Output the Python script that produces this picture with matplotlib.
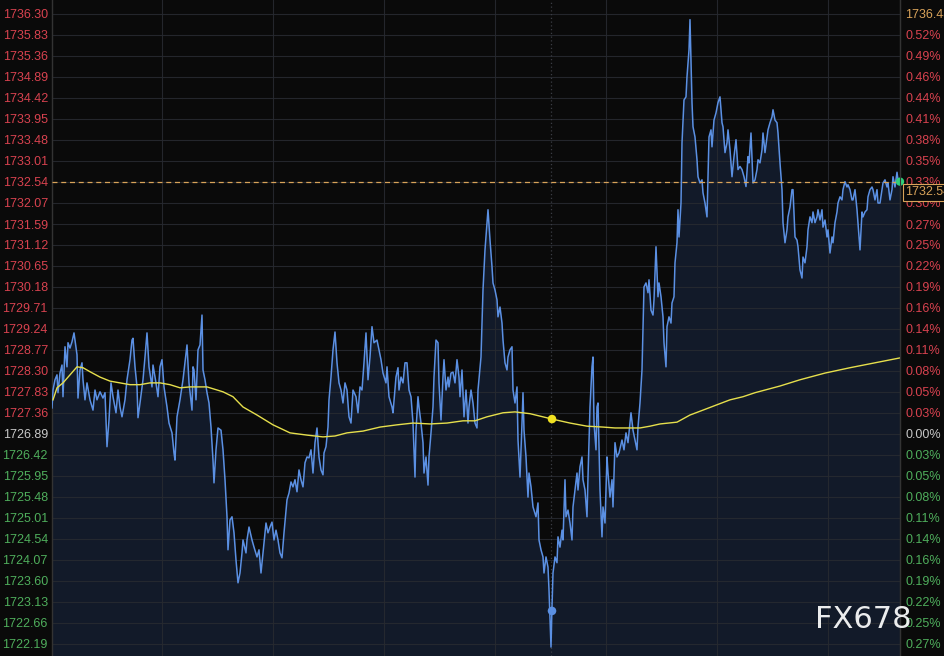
import matplotlib
matplotlib.use("Agg")
import matplotlib.pyplot as plt
import numpy as np

# ---------------- data ----------------
price_t = [0,1,3,5,6,8,10,11,13,15,16,18,20,22,25,26,28,30,31,33,35,38,41,43,45,48,51,53,55,57,59,61,64,66,68,70,73,75,78,80,81,83,85,86,88,91,93,95,97,100,101,104,106,108,110,112,115,117,120,122,123,125,128,131,133,135,137,140,141,
142,144,146,148,150,151,153,155,157,159,161,162,164,166,169,171,173,175,176,178,180,182,184,186,188,190,191,194,195,197,200,202,205,207,209,211,214,216,218,220,222,224,226,228,230,232,235,237,239,241,243,245,247,249,251,253,255,257,259,261,263,265,267,269,271,272,274,276,277,279,281,
283,285,287,289,291,293,295,297,299,301,304,306,308,310,312,314,316,318,320,322,325,327,329,331,334,335,337,340,341,344,346,347,349,351,353,355,357,359,361,363,364,366,367,369,371,372,374,376,377,379,381,382,384,386,387,389,391,392,394,396,397,399,401,403,405,407,408,410,412,414,416,417,419,
421,423,425,426,429,431,433,435,436,438,440,441,443,445,446,448,450,451,453,455,456,458,460,461,463,465,466,468,470,471,472,474,476,477,479,481,484,486,487,489,491,492,494,496,497,499,500,501,503,505,506,508,510,511,513,514,516,518,520,521,523,525,526,528,530,531,533,535,536,538,540,541,542,544,545,546,548,550,551,553,555,556,558,560,561,
563,565,567,570,572,574,576,579,581,583,585,586,588,590,591,592,594,596,597,599,601,602,604,606,607,609,611,612,614,615,617,619,620,622,623,625,626,627,629,630,632,634,635,637,638,639,640,641,643,645,646,648,650,651,653,655,657,659,660,662,664,666,668,670,671,673,675,676,678,680,682,684,686,688,690,692,694,696,697,
699,701,703,705,706,708,710,711,713,715,716,718,720,721,723,725,726,728,730,731,733,735,736,738,740,741,743,745,746,748,750,751,753,755,756,758,760,761,763,765,766,768,770,771,773,775,776,778,780,781,783,785,786,788,790,791,793,795,796,798,800,801,803,805,806,808,810,811,813,815,816,818,820,821,823,825,826,828,830,831,833,835,836,838,840,841,843,845,846,848]

price = [1727.47,1727.87,1728.10,1728.21,1727.81,1728.25,1728.43,1727.72,1728.84,1728.39,1728.93,1728.81,1728.95,1729.15,1728.66,1727.69,1728.32,1728.48,1728.10,1727.65,1728.03,1727.65,1727.42,1727.87,1727.65,1727.83,1727.69,1727.81,1726.60,1727.20,1728.03,1727.72,1727.36,1727.87,1727.49,1727.27,1727.65,1728.10,1728.55,1728.99,1729.03,1728.39,1727.94,1727.25,1727.58,1728.10,1728.61,1729.15,1728.39,1727.94,1728.43,1728.03,1727.72,1728.39,1728.55,1727.94,1727.49,1727.13,1726.91,1726.46,1726.30,1727.27,1727.65,1728.10,1728.48,1728.88,1728.03,1727.42,1728.39,
1728.32,1727.65,1728.77,1728.88,1729.55,1728.32,1728.10,1727.81,1727.58,1727.04,1726.30,1725.79,1726.53,1727.02,1726.97,1726.53,1725.86,1725.03,1724.29,1724.96,1725.03,1724.67,1724.06,1723.55,1723.77,1724.22,1724.51,1724.22,1724.51,1724.80,1724.51,1724.35,1724.13,1724.29,1723.77,1724.22,1724.89,1724.67,1724.80,1724.91,1724.51,1724.73,1724.51,1724.22,1724.11,1724.67,1725.41,1725.56,1725.81,1725.70,1725.86,1725.59,1726.08,1725.86,1725.70,1726.24,1726.37,1726.35,1726.53,1726.01,1726.69,1727.02,1726.37,1726.08,1725.97,1726.46,1726.60,1727.04,1727.65,1728.16,1728.77,
1729.17,1728.48,1728.03,1727.87,1727.58,1728.03,1727.87,1727.27,1727.13,1727.87,1727.72,1727.36,1727.94,1727.87,1728.48,1729.15,1728.10,1728.61,1729.29,1728.93,1728.99,1728.77,1728.55,1728.25,1728.03,1728.39,1727.72,1727.49,1727.36,1728.16,1728.37,1727.87,1728.16,1728.03,1728.48,1728.48,1727.87,1727.72,1727.13,1725.92,1726.97,1727.72,1727.49,1727.13,1726.69,1726.01,1726.37,1725.74,1726.37,1726.91,1727.49,1728.16,1728.99,1728.93,1728.03,1727.20,1728.16,1728.55,1727.87,1728.16,1727.94,1728.25,1728.27,1728.03,1728.55,1728.16,1727.72,1728.32,1727.27,1727.87,1727.13,1727.49,1727.87,
1727.58,1727.13,1727.02,1727.87,1728.61,1730.11,1731.01,1731.62,1731.91,1731.23,1730.63,1730.27,1730.11,1729.89,1729.51,1729.73,1729.37,1728.99,1728.48,1728.32,1728.61,1728.77,1728.84,1727.87,1727.58,1727.94,1726.75,1725.92,1727.13,1727.81,1726.97,1726.37,1725.47,1726.01,1725.70,1725.25,1725.03,1725.34,1724.51,1724.29,1724.13,1723.77,1724.13,1723.90,1723.39,1722.11,1723.01,1723.77,1724.13,1724.00,1724.58,1724.35,1724.73,1724.51,1725.86,1725.03,1725.18,1724.89,1724.51,1725.25,1725.63,1726.01,1725.63,1726.15,1726.37,1725.86,1725.63,1725.03,1725.92,1727.49,1728.39,1728.61,1727.13,1726.53,1727.49,1727.58,1725.63,1724.58,1725.25,1724.89,1726.37,1726.01,1725.47,1725.86,1725.25,
1726.69,1726.37,1726.46,1726.75,1726.53,1726.91,1726.69,1727.36,1726.97,1726.75,1726.53,1727.04,1727.58,1728.32,1729.29,1730.18,1730.27,1730.05,1730.34,1729.66,1729.55,1729.89,1731.08,1729.96,1730.27,1729.96,1729.51,1728.93,1728.39,1729.29,1729.51,1729.37,1729.82,1729.96,1730.72,1731.17,1731.91,1731.30,1732.06,1733.41,1734.37,1734.44,1734.89,1735.49,1736.17,1735.27,1734.31,1733.77,1733.54,1733.03,1732.65,1732.51,1732.58,1732.29,1732.06,1731.75,1733.54,1733.70,1733.32,1733.92,1734.08,1734.31,1734.44,1733.86,1733.77,1733.19,1733.41,1733.70,1733.25,1732.65,1733.10,1733.48,1732.81,1732.88,1732.81,1732.65,1732.43,1733.10,1732.96,
1733.63,1732.51,1732.58,1732.81,1733.03,1732.96,1733.25,1733.63,1733.19,1733.54,1733.70,1733.86,1733.99,1734.15,1733.92,1733.86,1733.63,1732.96,1732.36,1731.62,1731.17,1731.46,1731.75,1731.97,1732.36,1732.36,1731.30,1731.23,1731.08,1730.56,1730.38,1730.85,1730.72,1731.08,1731.46,1731.75,1731.62,1731.86,1731.62,1731.75,1731.91,1731.68,1731.91,1731.52,1731.68,1731.30,1731.46,1730.94,1731.30,1731.17,1731.62,1731.86,1732.06,1732.20,1732.13,1732.36,1732.54,1732.42,1732.47,1732.36,1732.13,1732.13,1732.36,1731.91,1731.62,1731.01,1731.86,1731.75,1731.86,1731.91,1732.20,1732.36,1732.42,1732.36,1732.13,1732.36,1732.06,1732.06,1732.36,1732.51,1732.58,1732.42,1732.51,1732.13,1732.36,1732.65,1732.42,1732.75,1732.58,1732.54]

ma_t = [1,5,11,18,25,31,38,48,58,68,78,88,98,108,118,128,138,155,171,181,191,205,221,238,255,271,283,295,311,328,345,361,378,395,411,423,435,451,463,478,500,518,535,551,563,575,588,598,608,625,638,651,665,678,691,703,728,748,773,798,823,848]
ma = [1727.65,1727.92,1728.03,1728.21,1728.39,1728.37,1728.28,1728.16,1728.07,1728.03,1727.99,1727.99,1728.03,1728.03,1727.99,1727.92,1727.94,1727.94,1727.83,1727.72,1727.49,1727.31,1727.09,1726.91,1726.86,1726.82,1726.84,1726.91,1726.95,1727.04,1727.09,1727.13,1727.11,1727.13,1727.18,1727.18,1727.27,1727.36,1727.38,1727.34,1727.22,1727.13,1727.06,1727.04,1727.02,1727.02,1727.02,1727.06,1727.11,1727.15,1727.31,1727.42,1727.54,1727.65,1727.72,1727.81,1727.96,1728.10,1728.25,1728.37,1728.48,1728.59]

left_ticks = [1736.30,1735.83,1735.36,1734.89,1734.42,1733.95,1733.48,1733.01,1732.54,1732.07,1731.59,1731.12,1730.65,1730.18,1729.71,1729.24,1728.77,1728.30,1727.83,1727.36,1726.89,1726.42,1725.95,1725.48,1725.01,1724.54,1724.07,1723.60,1723.13,1722.66,1722.19]
right_labels = ["1736.48","0.52%","0.49%","0.46%","0.44%","0.41%","0.38%","0.35%","0.33%","0.30%","0.27%","0.25%","0.22%","0.19%","0.16%","0.14%","0.11%","0.08%","0.05%","0.03%","0.00%","0.03%","0.05%","0.08%","0.11%","0.14%","0.16%","0.19%","0.22%","0.25%","0.27%"]
base_price = 1726.89
last_price = 1732.54
marker_t = 500
marker_low = 1722.92
marker_ma = 1727.22
vgrid_t = [110, 221, 332, 443, 554, 665, 776]

# ---------------- styling ----------------
BG = "#0a0a0a"
FILL = "#121a29"
GRID = "#272a30"
RED = "#d8424f"
GREEN = "#4fae5c"
NEUTRAL = "#c8c8c8"
ORANGE = "#d9a35a"
BLUE = "#5b90e3"
YELLOW = "#e6df4c"

W, H = 944, 656
fig = plt.figure(figsize=(W/100, H/100), dpi=100, facecolor=BG)
ax = fig.add_axes([52/W, 0, (900-52)/W, 1])
ax.set_facecolor(BG)
ymin, ymax = 1721.91, 1736.61
ax.set_xlim(0, 848)
ax.set_ylim(ymin, ymax)

ax.fill_between(price_t, price, ymin, color=FILL, zorder=1, linewidth=0)
for v in left_ticks:
    ax.axhline(v, color=GRID, lw=0.8, zorder=1.5, alpha=0.9)
for v in vgrid_t:
    ax.axvline(v, color=GRID, lw=0.8, zorder=1.5, alpha=0.9)
ax.axvline(marker_t - 1, color="#3a3d44", lw=0.9, ls=(0, (1, 2)), zorder=1.6)

ax.plot(price_t, price, color=BLUE, lw=1.1, zorder=3)
ax.plot(ma_t, ma, color=YELLOW, lw=1.0, zorder=4)
ax.axhline(last_price, color=ORANGE, lw=0.9, ls=(0, (4, 3)), zorder=5)

ax.scatter([marker_t], [marker_ma], s=38, color="#f0e020", zorder=6, edgecolors="none")
ax.scatter([marker_t], [marker_low], s=38, color="#5b90e3", zorder=6, edgecolors="none")
ax.scatter([price_t[-1]], [price[-1]], s=36, color="#2fd07a", zorder=7, edgecolors="none", clip_on=False)

for s in ["top", "bottom"]:
    ax.spines[s].set_visible(False)
for s in ["left", "right"]:
    ax.spines[s].set_color("#333333")
    ax.spines[s].set_linewidth(1.0)
ax.set_xticks([])

def col(v):
    if abs(v - base_price) < 1e-6:
        return NEUTRAL
    return RED if v > base_price else GREEN

ax.set_yticks(left_ticks)
ax.set_yticklabels([f"{v:.2f}" for v in left_ticks], fontsize=9, family="Liberation Sans")
ax.tick_params(axis="y", length=0, pad=3)
for lab, v in zip(ax.get_yticklabels(), left_ticks):
    lab.set_color(col(v))

ax2 = ax.twinx()
ax2.set_ylim(ymin, ymax)
ax2.set_yticks(left_ticks)
ax2.set_yticklabels(right_labels, fontsize=9, family="Liberation Sans")
ax2.tick_params(axis="y", length=0, pad=4)
for i, (lab, v) in enumerate(zip(ax2.get_yticklabels(), left_ticks)):
    lab.set_color(ORANGE if i == 0 else col(v))
for s in ["top", "bottom", "left"]:
    ax2.spines[s].set_visible(False)
ax2.spines["right"].set_color("#333333")

# current price box on right axis
fig.text(905/W, 1 - 192/H, f"{last_price:.2f}", color=ORANGE, fontsize=9,
         family="Liberation Sans", ha="left", va="center",
         bbox=dict(boxstyle="square,pad=0.2", fc=BG, ec=ORANGE, lw=0.8))

# watermark
fig.text(863/W, 1 - 620/H, "FX678", color="white", fontsize=22, ha="center", va="center", alpha=0.92)

fig.savefig("out.png", dpi=100, facecolor=BG)
